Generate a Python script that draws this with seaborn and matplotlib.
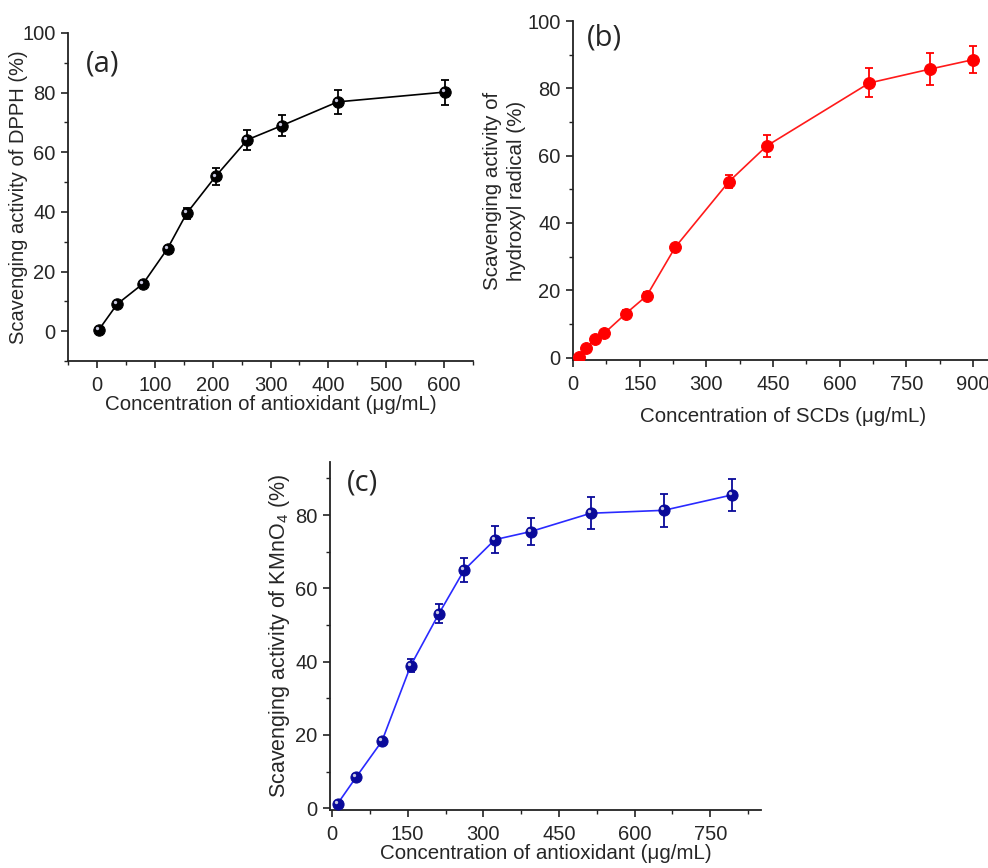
import numpy as np
import pandas as pd
import seaborn as sns
import matplotlib.pyplot as plt
from matplotlib.ticker import MultipleLocator
from matplotlib import transforms

# (a) DPPH
conc_a = [3, 35, 80, 122, 155, 205, 260, 319, 416, 602]
scav_a = [0.4, 9.1, 16.0, 27.7, 39.5, 51.9, 64.2, 68.9, 76.9, 80.2]
err_a = [0.5, 0.8, 0.9, 1.0, 1.8, 2.8, 3.3, 3.5, 3.9, 4.2]

# (b) hydroxyl radical
conc_b = [13, 30, 49, 70, 119, 166, 230, 351, 436, 667, 803, 900]
scav_b = [0.3, 2.8, 5.5, 7.2, 13.1, 18.4, 32.8, 52.3, 62.9, 81.6, 85.7, 88.5]
err_b = [0.4, 0.6, 0.7, 0.8, 0.9, 1.0, 1.0, 1.9, 3.3, 4.3, 4.7, 4.0]

# (c) KMnO4
conc_c = [11, 48, 99, 156, 212, 262, 323, 394, 513, 658, 793]
scav_c = [1.2, 8.5, 18.3, 38.9, 53.1, 65.0, 73.3, 75.5, 80.5, 81.3, 85.5]
err_c = [0.5, 0.7, 0.9, 1.8, 2.6, 3.2, 3.6, 3.8, 4.3, 4.5, 4.4]

sns.set_style("ticks")
plt.rcParams['font.family'] = ['Liberation Sans', 'DejaVu Sans']
plt.rcParams['mathtext.fontset'] = 'custom'
plt.rcParams['mathtext.rm'] = 'Liberation Sans'
plt.rcParams['mathtext.it'] = 'Liberation Sans:italic'

fig = plt.figure(figsize=(9.88, 8.68), dpi=100)
ax_a = fig.add_axes([0.0688, 0.584, 0.410, 0.378])
ax_b = fig.add_axes([0.580, 0.5853, 0.425, 0.3905])
ax_c = fig.add_axes([0.334, 0.0668, 0.436, 0.401])


def draw(ax, x, y, err, line_col, mark_col, ms, shine):
    df = pd.DataFrame({'x': x, 'y': y})
    ax.errorbar(x, y, yerr=err, fmt='none', ecolor=mark_col, elinewidth=1.3,
                capsize=2.8, capthick=1.3, zorder=2)
    sns.lineplot(data=df, x='x', y='y', ax=ax, color=line_col, lw=1.2,
                 marker='o', markersize=ms, markerfacecolor=mark_col,
                 markeredgecolor=mark_col, zorder=3)
    if shine:
        tr = transforms.offset_copy(ax.transData, fig=ax.figure, x=-1.4, y=1.4, units='points')
        ax.plot(x, y, 'o', ms=2.4, color='#c8c8e0', mec='none', transform=tr, zorder=4)


draw(ax_a, conc_a, scav_a, err_a, 'black', 'black', 8.2, True)
draw(ax_b, conc_b, scav_b, err_b, '#ff1a1a', '#ff0000', 8.5, False)
draw(ax_c, conc_c, scav_c, err_c, '#2a2aff', '#0a0a9a', 8.0, True)

ax_a.set_xlim(-50, 650)
ax_a.set_ylim(-10, 100)
ax_a.xaxis.set_major_locator(MultipleLocator(100))
ax_a.xaxis.set_minor_locator(MultipleLocator(50))
ax_a.yaxis.set_major_locator(MultipleLocator(20))
ax_a.yaxis.set_minor_locator(MultipleLocator(10))
ax_a.set_xlabel('Concentration of antioxidant (\u03bcg/mL)', labelpad=0)
ax_a.set_ylabel('Scavenging activity of DPPH (%)', labelpad=-4, fontsize=14.5)

ax_b.set_xlim(0, 945)
ax_b.set_ylim(-0.7, 100)
ax_b.xaxis.set_major_locator(MultipleLocator(150))
ax_b.xaxis.set_minor_locator(MultipleLocator(75))
ax_b.yaxis.set_major_locator(MultipleLocator(20))
ax_b.yaxis.set_minor_locator(MultipleLocator(10))
ax_b.set_xlabel('Concentration of SCDs (\u03bcg/mL)', labelpad=9)
ax_b.set_ylabel('Scavenging activity of\nhydroxyl radical (%)', linespacing=1.3, labelpad=1)

ax_c.set_xlim(-4, 850)
ax_c.set_ylim(-0.5, 94.5)
ax_c.xaxis.set_major_locator(MultipleLocator(150))
ax_c.xaxis.set_minor_locator(MultipleLocator(75))
ax_c.yaxis.set_major_locator(MultipleLocator(20))
ax_c.yaxis.set_minor_locator(MultipleLocator(10))
ax_c.set_xlabel('Concentration of antioxidant (\u03bcg/mL)', labelpad=0)
ax_c.set_ylabel('Scavenging activity of KMnO$_4$ (%)', labelpad=2, fontsize=15.5)

for ax, lab, px, py in [(ax_a, '(a)', 0.045, 0.905), (ax_b, '(b)', 0.033, 0.95), (ax_c, '(c)', 0.04, 0.94)]:
    sns.despine(ax=ax)
    for s in ['left', 'bottom']:
        ax.spines[s].set_linewidth(1.3)
        ax.spines[s].set_color('#222222')
    ax.tick_params(which='major', direction='out', length=5, width=1.2, labelsize=14.5, pad=4, color='#222222')
    ax.tick_params(axis='x', which='major', pad=6)
    ax.tick_params(which='minor', direction='out', length=3, width=1.0, color='#222222')
    ax.xaxis.label.set_size(14.8)
    ax.text(px, py, lab, transform=ax.transAxes, fontsize=21, va='center', ha='left',
            family=['Open Sans', 'DejaVu Sans'])

ax_b.yaxis.label.set_size(14.8)

fig.savefig('out.png', dpi=100)
